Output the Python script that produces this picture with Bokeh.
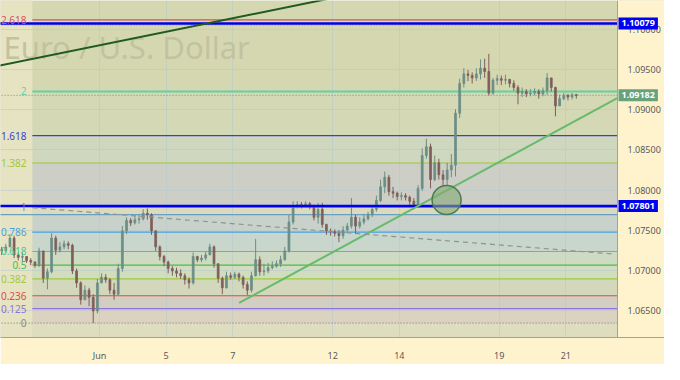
from bokeh.plotting import figure
from bokeh.models import Range1d, FixedTicker, NumeralTickFormatter, Label, ColumnDataSource
from bokeh.core.properties import value
from bokeh.embed import file_html
from bokeh.resources import INLINE

# ---------------- data (EUR/USD, 3-hour candles) ----------------
bars_per_day = 8
first_open = 1.0726
close = [
    1.0724, 1.0729, 1.0740, 1.0719, 1.0716, 1.0717, 1.0712, 1.0710,
    1.0706, 1.0724, 1.0690, 1.0698, 1.0740, 1.0725, 1.0729, 1.0733,
    1.0731, 1.0699, 1.0684, 1.0663, 1.0675, 1.0666, 1.0649, 1.0684,
    1.0691, 1.0688, 1.0675, 1.0670, 1.0702, 1.0749, 1.0762, 1.0759,
    1.0763, 1.0764, 1.0771, 1.0769, 1.0749, 1.0729, 1.0717, 1.0710,
    1.0702, 1.0699, 1.0696, 1.0693, 1.0688, 1.0684, 1.0717, 1.0713,
    1.0715, 1.0719, 1.0729, 1.0708, 1.0690, 1.0678, 1.0693, 1.0691,
    1.0695, 1.0691, 1.0682, 1.0675, 1.0693, 1.0713, 1.0698, 1.0699,
    1.0703, 1.0705, 1.0708, 1.0713, 1.0724, 1.0760, 1.0780, 1.0782,
    1.0780, 1.0783, 1.0779, 1.0766, 1.0776, 1.0757, 1.0749, 1.0748,
    1.0746, 1.0743, 1.0750, 1.0755, 1.0766, 1.0755, 1.0760, 1.0764,
    1.0769, 1.0776, 1.0787, 1.0804, 1.0816, 1.0798, 1.0796, 1.0792,
    1.0793, 1.0791, 1.0786, 1.0780, 1.0802, 1.0843, 1.0854, 1.0813,
    1.0834, 1.0819, 1.0813, 1.0825, 1.0831, 1.0896, 1.0933, 1.0945,
    1.0943, 1.0940, 1.0945, 1.0952, 1.0948, 1.0921, 1.0937, 1.0939,
    1.0937, 1.0938, 1.0933, 1.0928, 1.0921, 1.0923, 1.0920, 1.0921,
    1.0923, 1.0920, 1.0924, 1.0940, 1.0928, 1.0905, 1.0914, 1.0918,
    1.0916, 1.0919, 1.0918,
]
high = [
    1.0729, 1.0733, 1.0745, 1.0743, 1.0722, 1.0722, 1.0717, 1.0715,
    1.0711, 1.0728, 1.0724, 1.0702, 1.0746, 1.0743, 1.0735, 1.0737,
    1.0736, 1.0733, 1.0702, 1.0686, 1.0681, 1.0678, 1.0670, 1.0689,
    1.0696, 1.0695, 1.0690, 1.0684, 1.0708, 1.0755, 1.0766, 1.0765,
    1.0768, 1.0769, 1.0776, 1.0777, 1.0771, 1.0750, 1.0731, 1.0719,
    1.0712, 1.0705, 1.0703, 1.0701, 1.0696, 1.0691, 1.0722, 1.0718,
    1.0719, 1.0723, 1.0733, 1.0731, 1.0708, 1.0692, 1.0698, 1.0697,
    1.0698, 1.0697, 1.0693, 1.0686, 1.0698, 1.0739, 1.0717, 1.0708,
    1.0709, 1.0711, 1.0712, 1.0718, 1.0729, 1.0769, 1.0786, 1.0786,
    1.0785, 1.0786, 1.0785, 1.0782, 1.0784, 1.0784, 1.0758, 1.0752,
    1.0751, 1.0750, 1.0755, 1.0759, 1.0790, 1.0769, 1.0766, 1.0770,
    1.0773, 1.0780, 1.0793, 1.0813, 1.0823, 1.0819, 1.0804, 1.0798,
    1.0797, 1.0796, 1.0793, 1.0790, 1.0806, 1.0852, 1.0864, 1.0858,
    1.0843, 1.0839, 1.0825, 1.0834, 1.0845, 1.0901, 1.0939, 1.0952,
    1.0950, 1.0947, 1.0952, 1.0963, 1.0964, 1.0970, 1.0940, 1.0944,
    1.0943, 1.0944, 1.0939, 1.0937, 1.0931, 1.0928, 1.0926, 1.0926,
    1.0927, 1.0926, 1.0928, 1.0946, 1.0940, 1.0929, 1.0919, 1.0921,
    1.0920, 1.0921, 1.0920,
]
low = [
    1.0719, 1.0722, 1.0729, 1.0715, 1.0712, 1.0711, 1.0709, 1.0706,
    1.0703, 1.0704, 1.0684, 1.0676, 1.0696, 1.0719, 1.0722, 1.0726,
    1.0726, 1.0695, 1.0678, 1.0657, 1.0663, 1.0655, 1.0634, 1.0646,
    1.0684, 1.0684, 1.0670, 1.0663, 1.0668, 1.0698, 1.0745, 1.0755,
    1.0757, 1.0758, 1.0762, 1.0763, 1.0744, 1.0724, 1.0712, 1.0705,
    1.0696, 1.0693, 1.0691, 1.0689, 1.0682, 1.0677, 1.0682, 1.0710,
    1.0710, 1.0712, 1.0719, 1.0703, 1.0684, 1.0670, 1.0677, 1.0688,
    1.0689, 1.0686, 1.0677, 1.0669, 1.0672, 1.0692, 1.0693, 1.0693,
    1.0696, 1.0701, 1.0703, 1.0704, 1.0712, 1.0722, 1.0757, 1.0777,
    1.0777, 1.0778, 1.0776, 1.0762, 1.0758, 1.0753, 1.0744, 1.0743,
    1.0742, 1.0735, 1.0739, 1.0748, 1.0752, 1.0745, 1.0752, 1.0757,
    1.0762, 1.0766, 1.0773, 1.0785, 1.0796, 1.0793, 1.0790, 1.0787,
    1.0787, 1.0787, 1.0780, 1.0776, 1.0778, 1.0799, 1.0839, 1.0802,
    1.0811, 1.0813, 1.0806, 1.0805, 1.0816, 1.0817, 1.0890, 1.0928,
    1.0936, 1.0933, 1.0936, 1.0938, 1.0940, 1.0918, 1.0919, 1.0931,
    1.0931, 1.0932, 1.0928, 1.0924, 1.0907, 1.0916, 1.0916, 1.0917,
    1.0918, 1.0914, 1.0917, 1.0919, 1.0923, 1.0892, 1.0905, 1.0912,
    1.0912, 1.0913, 1.0914,
]

day_ticks = [3, 5, 7, 10, 12, 15, 17]            # trading days since May 29
day_tick_labels = ["Jun", "5", "7", "12", "14", "19", "21"]
price_ticks = [1.065, 1.070, 1.075, 1.080, 1.085, 1.090, 1.095, 1.100]

fib_low = 1.06339
fib_high = 1.07785
fib_ratios = [0, 0.125, 0.236, 0.382, 0.5, 0.618, 0.786, 1, 1.382, 1.618, 2, 2.618]
fib_names = ["0", "0.125", "0.236", "0.382", "0.5", "0.618", "0.786", "1", "1.382", "1.618", "2", "2.618"]

level_upper = 1.10079
level_lower = 1.07801
level_steel = 1.07693
level_dotted = 1.10061
last_price = 1.09182

# drawings (time in trading days, price)
dark_trend_t = [-0.5, 10.5]
dark_trend_p = [1.0951, 1.1044]
green_trend_t = [7.19, 19.0]
green_trend_p = [1.0659, 1.0925]
dash_trend_t = [0.986, 18.45]
dash_trend_p = [1.0778, 1.0720]
circle_t = [13.42]
circle_p = [1.07875]
fib_start = 0.985
watermark = "Euro / U.S. Dollar"

# ---------------- styling / layout ----------------
W, H = 664, 364
SCALE_W = 47                       # width of the price-scale column
X0, XV = 0.029, 18.55              # visible time span of the chart pane
X_END = X0 + (XV - X0) * W / (W - SCALE_W)
Y0, Y1 = 1.06159, 1.10366
FONT = "Noto Sans"
CREAM = "#FEF3CD"

fib_colors = ["#8a8a8a", "#9370db", "#dd4a48", "#9ccc3c", "#4cbb4c", "#47c79a",
              "#4a9fe0", "#888888", "#a4c639", "#3b3fd4", "#5fd3a3", "#d9534f"]

p = figure(width=W, height=H, output_backend="svg", toolbar_location=None,
           x_range=Range1d(X0, X_END), y_range=Range1d(Y0, Y1),
           y_axis_location="right", min_border=0)
p.background_fill_color = "#D5D7B1"
p.border_fill_color = CREAM
p.outline_line_color = None

fib_prices = [fib_low + r * (fib_high - fib_low) for r in fib_ratios]

# fib zone fills
edges = [Y0 - 0.01] + fib_prices[:7] + [level_steel] + fib_prices[7:11]
band_cols = ["#DEDDC0", "#DBD2C0", "#D2CFC2", "#D3D8BD", "#D2DCBE", "#CEDAC2",
             "#C8D6CB", "#C8D2CB", "#D9DABF", "#CDCEC5", "#CFD7BF", "#D4D8B5"]
p.quad(left=[fib_start] * len(band_cols), right=[30] * len(band_cols),
       bottom=edges[:-1], top=edges[1:], fill_color=band_cols, line_color=None, level="image")
p.quad(left=[-3], right=[fib_start], bottom=[Y0 - 0.01], top=[Y1 + 0.01],
       fill_color="#E6E3C3", line_color=None, level="image")

# grid
for g in (p.xgrid, p.ygrid):
    g.grid_line_color = "#b7c8cf"
    g.grid_line_alpha = 0.55
p.xgrid.ticker = FixedTicker(ticks=day_ticks)
p.ygrid.ticker = FixedTicker(ticks=price_ticks)

# watermark
p.text(x=[0.12], y=[1.0978], text=[watermark], text_font=value(FONT),
       text_font_size="31px", text_color="#c1c39f", text_baseline="middle", text_align="left")

# fib level lines
for i, (pr, col) in enumerate(zip(fib_prices, fib_colors)):
    if fib_ratios[i] == 0:
        p.segment(x0=[-3], x1=[30], y0=[pr], y1=[pr], line_color=col, line_width=1.2, line_dash="1 2")
    else:
        p.segment(x0=[fib_start], x1=[30], y0=[pr], y1=[pr], line_color=col,
                  line_width=2 if fib_ratios[i] == 2 else 1.2)

p.segment(x0=[-3], x1=[30], y0=[level_steel], y1=[level_steel], line_color="#6a9fc0", line_width=1.2)
p.segment(x0=[-3, -3], x1=[30, 30], y0=[level_dotted, last_price], y1=[level_dotted, last_price],
          line_color="#7d8a7a", line_width=1, line_dash="1 2")

# candles
n = len(close)
opens = [first_open] + close[:-1]
t = [(i + 0.5) / bars_per_day for i in range(n)]
cols = ["#6c8e85" if c >= o else "#7f5f5a" for o, c in zip(opens, close)]
src = ColumnDataSource(dict(t=t, o=opens, c=close, h=high, l=low,
                            top=[max(o, c) for o, c in zip(opens, close)],
                            bot=[min(o, c) for o, c in zip(opens, close)], col=cols))
p.segment(x0="t", x1="t", y0="l", y1="h", line_color="col", line_width=1, source=src)
p.vbar(x="t", width=0.055, top="top", bottom="bot", fill_color="col", line_color="col",
       line_width=0.8, source=src)

# blue horizontal levels
p.segment(x0=[-3, -3], x1=[30, 30], y0=[level_upper, level_lower], y1=[level_upper, level_lower],
          line_color="#0000f0", line_width=2.6)

# trend lines
p.line(dark_trend_t, dark_trend_p, line_color="#1f5a1f", line_width=2)
p.line(green_trend_t, green_trend_p, line_color="#66bb6a", line_width=2)
p.line(dash_trend_t, dash_trend_p, line_color="#8f9490", line_width=1.2, line_dash="5 4")
p.scatter(circle_t, circle_p, size=29, marker="circle", fill_color="#84a874",
          fill_alpha=0.6, line_color="#4b7a4b", line_width=1.5)

# fib labels
p.text(x=[0.81] * len(fib_prices), y=fib_prices, text=fib_names, text_color=fib_colors,
       text_align="right", text_baseline="middle", text_font=value(FONT), text_font_size="10px")

# price-scale column background (covers everything right of the chart pane)
p.quad(left=[XV], right=[X_END + 1], bottom=[Y0 - 0.01], top=[Y1 + 0.01],
       fill_color=CREAM, line_color=None)

# axes
p.xaxis.ticker = FixedTicker(ticks=day_ticks)
p.xaxis.major_label_overrides = {d: s for d, s in zip(day_ticks, day_tick_labels)}
p.yaxis.ticker = FixedTicker(ticks=price_ticks)
p.yaxis.formatter = NumeralTickFormatter(format="0.00000")
p.yaxis.fixed_location = XV
for ax in (p.xaxis, p.yaxis):
    ax.axis_line_color = "#a3a38e"
    ax.major_tick_line_color = None
    ax.minor_tick_line_color = None
    ax.major_label_text_font = FONT
    ax.major_label_text_font_size = "9px"
    ax.major_label_text_color = "#5a5a5a"
p.xaxis.major_label_standoff = 5
p.yaxis.major_label_standoff = 4

# price labels on the right scale
for pr, col in [(level_upper, "#0000f0"), (level_lower, "#0000f0"), (last_price, "#68a27c")]:
    p.add_layout(Label(x=XV, y=pr, x_offset=1, text=f"{pr:.5f}", text_align="left",
                       text_baseline="middle", text_color="white", text_font=FONT,
                       text_font_style="bold", text_font_size="9px",
                       background_fill_color=col, padding=3))

open("out.html", "w").write(file_html(p, INLINE))
